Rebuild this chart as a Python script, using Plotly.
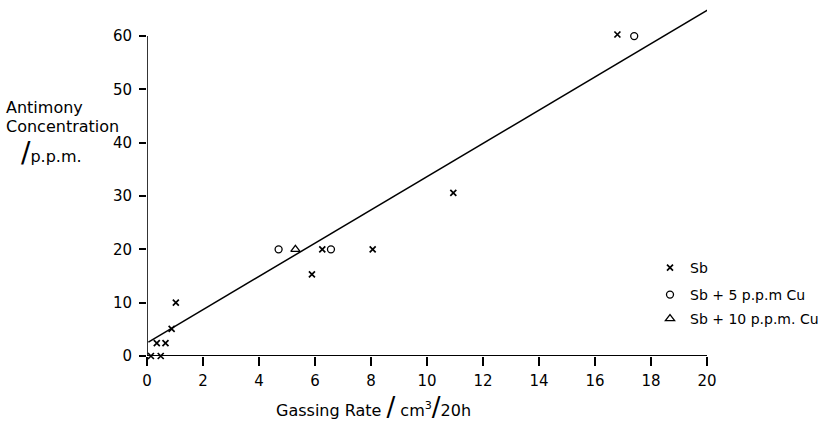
import plotly.graph_objects as go

sb_x = [0.14, 0.49, 0.35, 0.66, 0.88, 1.03, 5.89, 6.26, 8.06, 10.94, 16.8]
sb_y = [0, 0, 2.4, 2.4, 5.1, 10.0, 15.3, 20, 20, 30.6, 60.3]
cu5_x = [4.70, 6.57, 17.4]
cu5_y = [20, 20, 60]
cu10_x = [5.3]
cu10_y = [20]
fit_x = [0.05, 20.05]
fit_y = [2.6, 65.0]

x_ticks = [0, 2, 4, 6, 8, 10, 12, 14, 16, 18, 20]
y_ticks = [0, 10, 20, 30, 40, 50, 60]

FONT = "DejaVu Sans"
W, H = 825, 421
ML, MR, MT, MB = 147, 118, 2, 65
PW, PH = W - ML - MR, H - MT - MB

def px(xp):
    return (xp - ML) / PW

def py(yp):
    return (H - MB - yp) / PH

def f(size):
    return dict(family=FONT, size=size, color="black")

fig = go.Figure()

fig.add_trace(go.Scatter(x=fit_x, y=fit_y, mode="lines", line=dict(color="black", width=1.5),
                         showlegend=False, cliponaxis=False))
fig.add_trace(go.Scatter(x=sb_x, y=sb_y, mode="markers", name="Sb",
                         marker=dict(symbol="x-thin", size=6, line=dict(color="black", width=1.7)),
                         cliponaxis=False, legend="legend"))
fig.add_trace(go.Scatter(x=cu5_x, y=cu5_y, mode="markers", name="Sb + 5 p.p.m Cu",
                         marker=dict(symbol="circle-open", size=7, color="black", line=dict(width=1.3)),
                         cliponaxis=False, legend="legend2"))
fig.add_trace(go.Scatter(x=cu10_x, y=cu10_y, mode="markers", name="Sb + 10 p.p.m. Cu",
                         marker=dict(symbol="triangle-up-open", size=8, color="black", line=dict(width=1.3)),
                         cliponaxis=False, legend="legend3"))

# axis lines
fig.add_shape(type="line", xref="x", yref="y", x0=0, x1=0, y0=0, y1=60,
              line=dict(color="black", width=1.6))
fig.add_shape(type="line", xref="x", yref="y", x0=0, x1=20, y0=0, y1=0,
              line=dict(color="black", width=2))

leg_common = dict(font=f(14), bgcolor="rgba(0,0,0,0)",
                  xanchor="left", yanchor="middle", itemwidth=30, tracegroupgap=0,
                  xref="paper", yref="paper")
fig.update_layout(
    legend=dict(x=px(650), y=py(268), **leg_common),
    legend2=dict(x=px(650), y=py(295), **leg_common),
    legend3=dict(x=px(650), y=py(319), **leg_common),
)

fig.update_xaxes(range=[0, 20], tickvals=x_ticks, ticktext=[str(v) for v in x_ticks],
                 ticks="outside", ticklen=9, tickwidth=1.6, tickcolor="black",
                 ticklabelstandoff=2,
                 showline=False, showgrid=False, zeroline=False, tickfont=f(15))
fig.update_yaxes(range=[0, 66.4], tickvals=y_ticks, ticktext=[str(v) for v in y_ticks],
                 ticks="outside", ticklen=7, tickwidth=1.6, tickcolor="black",
                 ticklabelstandoff=4,
                 showline=False, showgrid=False, zeroline=False, tickfont=f(15))

for text, xp, yp in [("Antimony", 4, 107), ("Concentration", 4, 126)]:
    fig.add_annotation(text=text, xref="paper", yref="paper", x=px(xp), y=py(yp),
                       xanchor="left", yanchor="middle", showarrow=False, font=f(16))
fig.add_annotation(text="<span style='font-size:28px'>/</span>p.p.m.",
                   xref="paper", yref="paper",
                   x=px(19), y=py(152), xanchor="left", yanchor="middle", showarrow=False,
                   font=f(16))
fig.add_annotation(text="Gassing Rate <span style='font-size:26px'>/</span> cm<sup>3</sup><span style='font-size:26px'>/</span>20h",
                   xref="paper", yref="paper", x=px(274), y=py(407),
                   xanchor="left", yanchor="middle", showarrow=False, font=f(16))

fig.update_layout(width=W, height=H, margin=dict(l=ML, r=MR, t=MT, b=MB, autoexpand=False),
                  paper_bgcolor="white", plot_bgcolor="white")
fig.write_html("out.html")
